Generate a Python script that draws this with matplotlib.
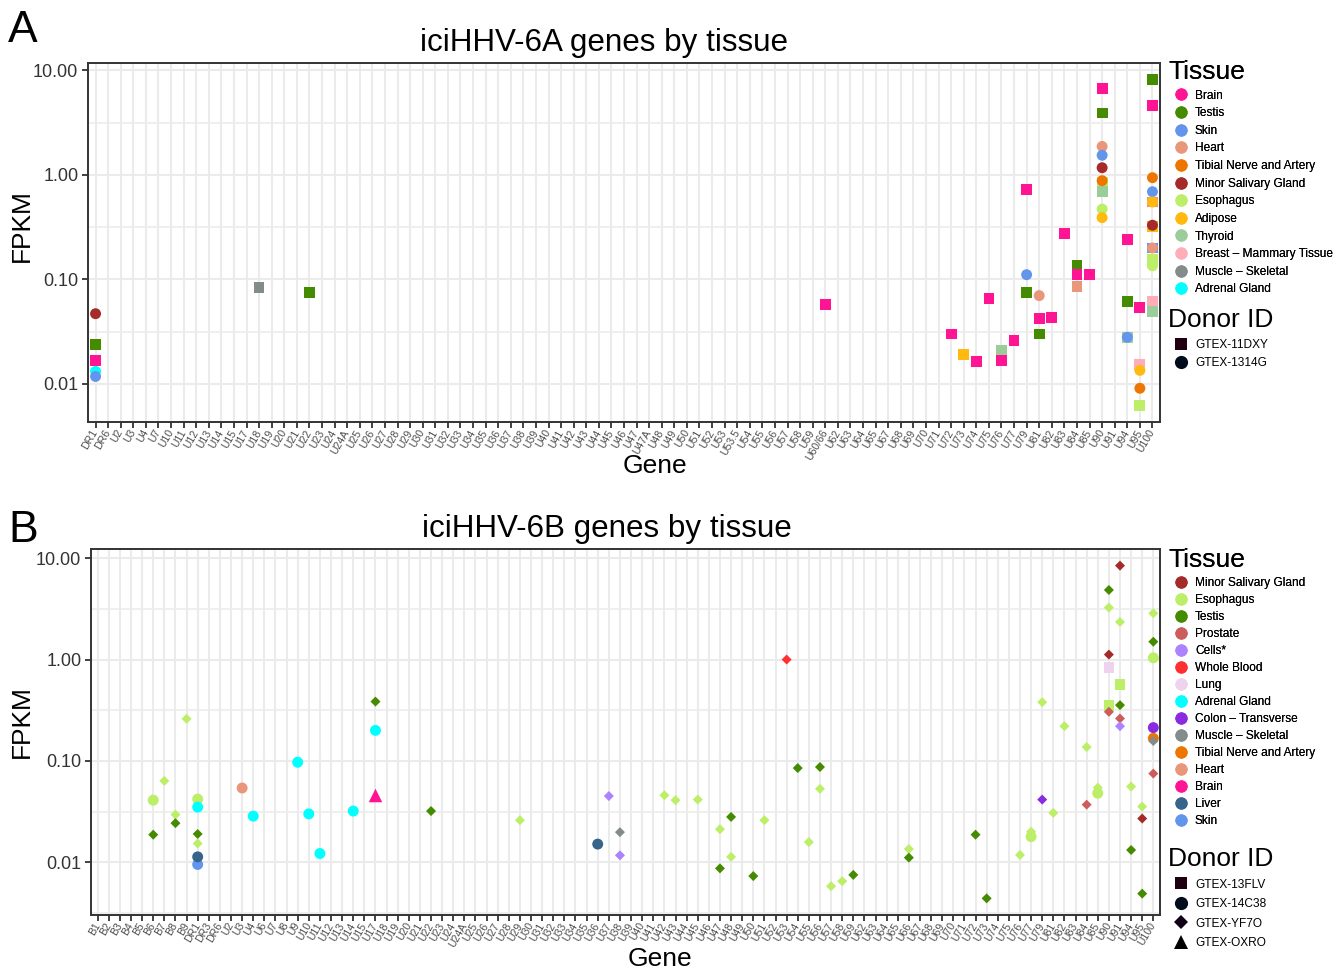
import matplotlib
matplotlib.use('Agg')
import matplotlib.pyplot as plt
from matplotlib.lines import Line2D
from matplotlib.ticker import FixedLocator, NullFormatter
import numpy as np

plt.rcParams['font.family'] = ['Liberation Sans', 'DejaVu Sans']

# ---------------- panel A : iciHHV-6A ----------------
genes_a = ['DR1', 'DR6', 'U2', 'U3', 'U4', 'U7', 'U10', 'U11', 'U12', 'U13', 'U14', 'U15',
           'U17', 'U18', 'U19', 'U20', 'U21', 'U22', 'U23', 'U24', 'U24A', 'U25', 'U26', 'U27',
           'U28', 'U29', 'U30', 'U31', 'U32', 'U33', 'U34', 'U35', 'U36', 'U37', 'U38', 'U39',
           'U40', 'U41', 'U42', 'U43', 'U44', 'U45', 'U46', 'U47', 'U47A', 'U48', 'U49', 'U50',
           'U51', 'U52', 'U53', 'U53.5', 'U54', 'U55', 'U56', 'U57', 'U58', 'U59', 'U60/66',
           'U62', 'U63', 'U64', 'U65', 'U67', 'U68', 'U69', 'U70', 'U71', 'U72', 'U73', 'U74',
           'U75', 'U76', 'U77', 'U79', 'U81', 'U82', 'U83', 'U84', 'U85', 'U90', 'U91', 'U94',
           'U95', 'U100']

tissues_a = ['Brain', 'Testis', 'Skin', 'Heart', 'Tibial Nerve and Artery', 'Minor Salivary Gland',
             'Esophagus', 'Adipose', 'Thyroid', 'Breast \u2013 Mammary Tissue', 'Muscle \u2013 Skeletal',
             'Adrenal Gland']
donors_a = ['GTEX-11DXY', 'GTEX-1314G']

# donor GTEX-11DXY (squares)
a_11dxy_gene = ['DR1', 'DR1', 'U18', 'U22', 'U60/66', 'U72', 'U73', 'U74', 'U75', 'U76', 'U76',
                'U77', 'U79', 'U79', 'U81', 'U81', 'U82', 'U83', 'U84', 'U84', 'U84', 'U85',
                'U90', 'U90', 'U90', 'U90', 'U94', 'U94', 'U94', 'U95', 'U95', 'U95',
                'U100', 'U100', 'U100', 'U100', 'U100', 'U100', 'U100', 'U100']
a_11dxy_tissue = ['Testis', 'Brain', 'Muscle \u2013 Skeletal', 'Testis', 'Brain', 'Brain', 'Adipose',
                  'Brain', 'Brain', 'Thyroid', 'Brain', 'Brain', 'Brain', 'Testis', 'Brain', 'Testis',
                  'Brain', 'Brain', 'Testis', 'Brain', 'Heart', 'Brain',
                  'Brain', 'Testis', 'Esophagus', 'Thyroid', 'Testis', 'Brain', 'Thyroid',
                  'Brain', 'Breast \u2013 Mammary Tissue', 'Esophagus',
                  'Testis', 'Brain', 'Heart', 'Adipose', 'Skin', 'Esophagus',
                  'Breast \u2013 Mammary Tissue', 'Thyroid']
a_11dxy_fpkm = [0.024, 0.0168, 0.084, 0.075, 0.058, 0.030, 0.019, 0.0164, 0.066, 0.021, 0.0168,
                0.026, 0.73, 0.075, 0.042, 0.030, 0.043, 0.275, 0.136, 0.111, 0.086, 0.111,
                6.7, 3.9, 0.85, 0.69, 0.062, 0.24, 0.028, 0.054, 0.0154, 0.0062,
                8.2, 4.6, 0.55, 0.32, 0.20, 0.155, 0.062, 0.049]

# donor GTEX-1314G (circles)
a_1314g_gene = ['DR1', 'DR1', 'DR1', 'U79', 'U81', 'U90', 'U90', 'U90', 'U90', 'U90', 'U90',
                'U94', 'U95', 'U95', 'U100', 'U100', 'U100', 'U100', 'U100', 'U100']
a_1314g_tissue = ['Minor Salivary Gland', 'Adrenal Gland', 'Skin', 'Skin', 'Heart', 'Heart', 'Skin',
                  'Minor Salivary Gland', 'Tibial Nerve and Artery', 'Esophagus', 'Adipose',
                  'Skin', 'Adipose', 'Tibial Nerve and Artery', 'Tibial Nerve and Artery', 'Skin',
                  'Adipose', 'Minor Salivary Gland', 'Heart', 'Esophagus']
a_1314g_fpkm = [0.047, 0.0132, 0.0118, 0.111, 0.070, 1.87, 1.54, 1.17, 0.88, 0.47, 0.39,
                0.028, 0.0135, 0.0091, 0.94, 0.69, 0.55, 0.33, 0.20, 0.135]

# ---------------- panel B : iciHHV-6B ----------------
genes_b = ['B1', 'B2', 'B3', 'B4', 'B5', 'B6', 'B7', 'B8', 'B9', 'DR1', 'DR3', 'DR6', 'U2', 'U3',
           'U4', 'U6', 'U7', 'U8', 'U9', 'U10', 'U11', 'U12', 'U13', 'U14', 'U15', 'U17', 'U18',
           'U19', 'U20', 'U21', 'U22', 'U23', 'U24', 'U24A', 'U25', 'U26', 'U27', 'U28', 'U29',
           'U30', 'U31', 'U32', 'U33', 'U34', 'U35', 'U36', 'U37', 'U38', 'U39', 'U40', 'U41',
           'U42', 'U43', 'U44', 'U45', 'U46', 'U47', 'U48', 'U49', 'U50', 'U51', 'U52', 'U53',
           'U54', 'U55', 'U56', 'U57', 'U58', 'U59', 'U62', 'U63', 'U64', 'U65', 'U66', 'U67',
           'U68', 'U69', 'U70', 'U71', 'U72', 'U73', 'U74', 'U75', 'U76', 'U77', 'U79', 'U81',
           'U82', 'U83', 'U84', 'U85', 'U90', 'U91', 'U94', 'U95', 'U100']

tissues_b = ['Minor Salivary Gland', 'Esophagus', 'Testis', 'Prostate', 'Cells*', 'Whole Blood', 'Lung',
             'Adrenal Gland', 'Colon \u2013 Transverse', 'Muscle \u2013 Skeletal', 'Tibial Nerve and Artery',
             'Heart', 'Brain', 'Liver', 'Skin']
donors_b = ['GTEX-13FLV', 'GTEX-14C38', 'GTEX-YF7O', 'GTEX-OXRO']

# donor GTEX-13FLV (squares)
b_13flv_gene = ['U90', 'U90', 'U91']
b_13flv_tissue = ['Lung', 'Esophagus', 'Esophagus']
b_13flv_fpkm = [0.83, 0.35, 0.57]

# donor GTEX-14C38 (circles)
b_14c38_gene = ['B6', 'DR1', 'DR1', 'DR1', 'DR1', 'U3', 'U4', 'U9', 'U10', 'U11', 'U14', 'U17',
                'U36', 'U77', 'U85', 'U100', 'U100', 'U100']
b_14c38_tissue = ['Esophagus', 'Esophagus', 'Adrenal Gland', 'Skin', 'Liver', 'Heart', 'Adrenal Gland',
                  'Adrenal Gland', 'Adrenal Gland', 'Adrenal Gland', 'Adrenal Gland', 'Adrenal Gland',
                  'Liver', 'Esophagus', 'Esophagus', 'Esophagus', 'Colon \u2013 Transverse',
                  'Tibial Nerve and Artery']
b_14c38_fpkm = [0.041, 0.042, 0.035, 0.0095, 0.0113, 0.054, 0.0285, 0.097, 0.030, 0.0122, 0.032, 0.20,
                0.0151, 0.0179, 0.048, 1.04, 0.213, 0.167]

# donor GTEX-YF7O (diamonds)
b_yf7o_gene = ['B6', 'B7', 'B8', 'B8', 'B9', 'DR1', 'DR1', 'U17', 'U22', 'U29', 'U37', 'U38', 'U38',
               'U42', 'U43', 'U45', 'U47', 'U47', 'U48', 'U48', 'U50', 'U51', 'U53', 'U54', 'U55',
               'U56', 'U56', 'U57', 'U58', 'U59', 'U66', 'U66', 'U72', 'U73', 'U76', 'U77', 'U79',
               'U79', 'U81', 'U82', 'U84', 'U84', 'U85', 'U90', 'U90', 'U90', 'U90', 'U91', 'U91',
               'U91', 'U91', 'U91', 'U94', 'U94', 'U95', 'U95', 'U95', 'U100', 'U100', 'U100', 'U100']
b_yf7o_tissue = ['Testis', 'Esophagus', 'Esophagus', 'Testis', 'Esophagus', 'Testis', 'Esophagus',
                 'Testis', 'Testis', 'Esophagus', 'Cells*', 'Muscle \u2013 Skeletal', 'Cells*',
                 'Esophagus', 'Esophagus', 'Esophagus', 'Esophagus', 'Testis', 'Testis', 'Esophagus',
                 'Testis', 'Esophagus', 'Whole Blood', 'Testis', 'Esophagus', 'Testis', 'Esophagus',
                 'Esophagus', 'Esophagus', 'Testis', 'Esophagus', 'Testis', 'Testis', 'Testis',
                 'Esophagus', 'Esophagus', 'Esophagus', 'Colon \u2013 Transverse', 'Esophagus',
                 'Esophagus', 'Esophagus', 'Prostate', 'Esophagus', 'Testis', 'Esophagus',
                 'Minor Salivary Gland', 'Prostate', 'Minor Salivary Gland', 'Esophagus', 'Testis',
                 'Prostate', 'Cells*', 'Esophagus', 'Testis', 'Esophagus', 'Minor Salivary Gland',
                 'Testis', 'Esophagus', 'Testis', 'Muscle \u2013 Skeletal', 'Prostate']
b_yf7o_fpkm = [0.0187, 0.0635, 0.0295, 0.0243, 0.26, 0.019, 0.0153, 0.385, 0.032, 0.026, 0.045,
               0.0198, 0.0117, 0.0458, 0.041, 0.0415, 0.0212, 0.0087, 0.028, 0.0113, 0.0073, 0.026,
               1.0, 0.085, 0.0158, 0.087, 0.053, 0.0058, 0.0065, 0.0075, 0.0135, 0.0111, 0.0187,
               0.0044, 0.0118, 0.020, 0.38, 0.0415, 0.0307, 0.22, 0.137, 0.037, 0.0545, 4.86, 3.26,
               1.12, 0.305, 8.45, 2.35, 0.355, 0.262, 0.22, 0.0558, 0.0132, 0.0354, 0.027, 0.0049,
               2.86, 1.5, 0.157, 0.075]

# donor GTEX-OXRO (triangles)
b_oxro_gene = ['U17']
b_oxro_tissue = ['Brain']
b_oxro_fpkm = [0.046]

tissue_colors = {
    'Brain': '#FF1493', 'Testis': '#458B00', 'Skin': '#6495ED', 'Heart': '#E9967A',
    'Tibial Nerve and Artery': '#EE7600', 'Minor Salivary Gland': '#A52A2A',
    'Esophagus': '#BCEE68', 'Adipose': '#FFB90F', 'Thyroid': '#9BCD9B',
    'Breast \u2013 Mammary Tissue': '#FFAEB9', 'Muscle \u2013 Skeletal': '#838B8B',
    'Adrenal Gland': '#00FFFF', 'Prostate': '#CD5C5C', 'Cells*': '#AB82FF',
    'Whole Blood': '#FF3030', 'Lung': '#EED2EE', 'Colon \u2013 Transverse': '#8A2BE2',
    'Liver': '#36648B',
}

# marker, scatter size, legend size, legend colour
shape_square = ('s', 60, 9.0, '#200010')
shape_circle = ('o', 62, 9.5, '#000c1c')
shape_diamond = ('D', 26, 6.8, '#100018')
shape_triangle = ('^', 95, 10.5, '#000000')


def desenhaPainel(ax, genes, grupos):
    pos = {g: i for i, g in enumerate(genes)}
    todos = []
    for shape, gl, tl, fl in grupos:
        x = [pos[g] for g in gl]
        cores = [tissue_colors[t] for t in tl]
        ax.scatter(x, fl, marker=shape[0], s=shape[1], c=cores, linewidths=0, zorder=3)
        todos += fl

    # ggplot-like 5% expansion on log scale
    lo, hi = np.log10(min(todos)), np.log10(max(todos))
    pad = (hi - lo) * 0.05
    ax.set_yscale('log')
    ax.set_ylim(10 ** (lo - pad), 10 ** (hi + pad))
    ax.set_yticks([0.01, 0.1, 1, 10])
    ax.set_yticklabels(['0.01', '0.10', '1.00', '10.00'])
    ax.yaxis.set_minor_locator(FixedLocator(10 ** np.array([-2.5, -1.5, -0.5, 0.5])))
    ax.yaxis.set_minor_formatter(NullFormatter())

    ax.set_xlim(-0.6, len(genes) - 0.4)
    ax.set_xticks(range(len(genes)))
    ax.set_xticklabels(genes, rotation=60, ha='right', va='center', rotation_mode='anchor',
                       fontsize=7.6, color='#4d4d4d')

    ax.tick_params(axis='y', which='major', labelsize=13, labelcolor='#333333', pad=3)
    ax.tick_params(which='major', length=4, width=1.3, color='#333333')
    ax.tick_params(axis='x', pad=2)
    ax.tick_params(which='minor', length=0)
    ax.grid(True, which='major', color='#ebebeb', linewidth=1.5)
    ax.grid(True, which='minor', axis='y', color='#ebebeb', linewidth=1.1)
    ax.set_axisbelow(True)
    for s in ax.spines.values():
        s.set_color('#333333')
        s.set_linewidth(1.4)


def legendas(fig, tissues, donors, shapes, top_tissue, top_donor, left, esp_t, esp_d):
    h_t = [Line2D([], [], marker='o', ls='', markersize=8.8, markeredgewidth=0,
                  color=tissue_colors[t]) for t in tissues]
    leg1 = fig.legend(h_t, tissues, loc='upper left', bbox_to_anchor=(left, top_tissue),
                      frameon=False, title='Tissue', title_fontsize=19, fontsize=8.6,
                      alignment='left', handlelength=2.25, handletextpad=0.0,
                      labelspacing=esp_t, borderpad=0, borderaxespad=0)
    h_d = [Line2D([], [], marker=sh[0], ls='', markersize=sh[2], markeredgewidth=0,
                  color=sh[3]) for sh in shapes]
    leg2 = fig.legend(h_d, donors, loc='upper left', bbox_to_anchor=(left, top_donor),
                      frameon=False, title='Donor ID', title_fontsize=19, fontsize=8.6,
                      alignment='left', handlelength=2.25, handletextpad=0.0,
                      labelspacing=esp_d, borderpad=0, borderaxespad=0)
    fig.add_artist(leg1)


def main():
    W, H = 1336, 972
    fig = plt.figure(figsize=(W / 100, H / 100), dpi=100)

    ax_a = fig.add_axes([88 / W, 1 - 422 / H, (1160 - 88) / W, (422 - 63) / H])
    desenhaPainel(ax_a, genes_a, [
        (shape_square, a_11dxy_gene, a_11dxy_tissue, a_11dxy_fpkm),
        (shape_circle, a_1314g_gene, a_1314g_tissue, a_1314g_fpkm),
    ])
    ax_b = fig.add_axes([91 / W, 1 - 915 / H, (1160 - 91) / W, (915 - 549) / H])
    desenhaPainel(ax_b, genes_b, [
        (shape_square, b_13flv_gene, b_13flv_tissue, b_13flv_fpkm),
        (shape_circle, b_14c38_gene, b_14c38_tissue, b_14c38_fpkm),
        (shape_diamond, b_yf7o_gene, b_yf7o_tissue, b_yf7o_fpkm),
        (shape_triangle, b_oxro_gene, b_oxro_tissue, b_oxro_fpkm),
    ])

    for ax, ttl, tx, ty, gx, gy, fy in [
            (ax_a, 'iciHHV-6A genes by tissue', 604, 43, 655, 466, 226),
            (ax_b, 'iciHHV-6B genes by tissue', 607, 529, 660, 959, 722)]:
        fig.text(tx / W, 1 - ty / H, ttl, fontsize=22.6, ha='center', va='center')
        ax.set_xlabel('Gene', fontsize=19, va='center')
        ax.xaxis.set_label_coords(gx / W, 1 - gy / H, transform=fig.transFigure)
        ax.set_ylabel('FPKM', fontsize=19, va='center')
        ax.yaxis.set_label_coords(22 / W, 1 - fy / H, transform=fig.transFigure)

    fig.text(8 / W, 1 - 31 / H, 'A', fontsize=32, ha='left', va='center')
    fig.text(8 / W, 1 - 530 / H, 'B', fontsize=32, ha='left', va='center')

    legendas(fig, tissues_a, donors_a, [shape_square, shape_circle],
             1 - 60 / H, 1 - 308 / H, 1168 / W, 0.47, 0.56)
    legendas(fig, tissues_b, donors_b, [shape_square, shape_circle, shape_diamond, shape_triangle],
             1 - 548 / H, 1 - 847 / H, 1168 / W, 0.42, 0.63)

    fig.savefig('out.png', dpi=100)


main()
